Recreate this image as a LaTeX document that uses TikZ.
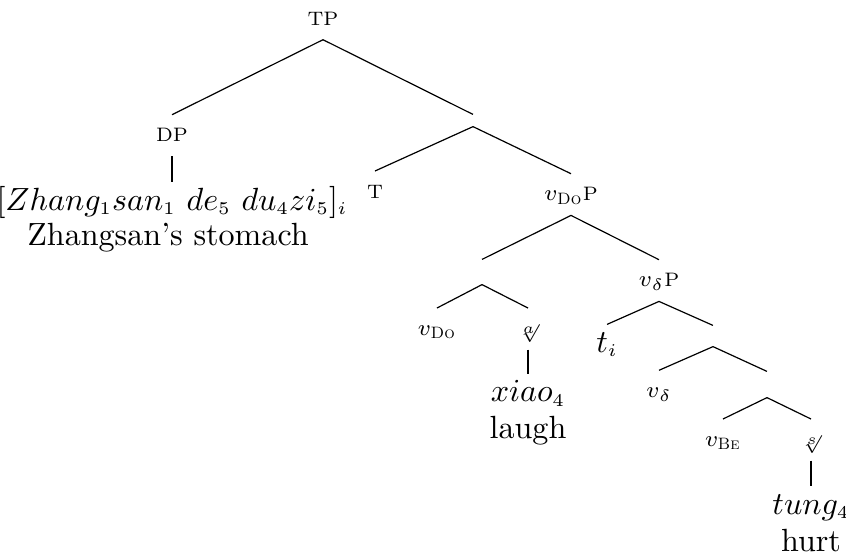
\RequirePackage{fix-cm}
\documentclass[tikz,border=0pt]{standalone}
\usepackage{amsmath}
\DeclareMathSizes{6}{6}{5}{5}
\DeclareMathSizes{6.5}{7.5}{5.5}{5}
\DeclareMathSizes{10.7}{10.7}{6}{5}
\begin{document}
\begin{tikzpicture}[x=0.3333pt, y=-0.3333pt,
  lbl/.style={font=\fontsize{6.5}{8}\selectfont, inner sep=0pt, text height=8.8pt, text depth=4.7pt, anchor=base},
  rootlbl/.style={lbl, font=\fontsize{6}{7}\selectfont},
  leaf/.style={font=\fontsize{10.7}{12}\selectfont, inner sep=0pt, text height=9pt, text depth=0pt, anchor=base},
  gloss/.style={font=\fontsize{10.7}{12}\selectfont, inner sep=0pt, anchor=base},
  empty/.style={inner sep=0pt, minimum width=0pt, minimum height=#1},
  edge/.style={line width=0.4pt}]
\useasboundingbox (0,0) rectangle (846,558);
% labels
\node[lbl] (TP) at (323,25) {TP};
\node[lbl] (DP) at (172,141.7) {DP};
\node[empty=3.67pt] (Tbar) at (473,120.5) {};
\node[lbl] (T) at (375,198) {T};
\node[lbl] (vDoP) at (571,200.7) {$v_{\text{\textsc{Do}}}$P};
\node[empty=8pt] (vbar) at (482,272) {};
\node[lbl] (vdP) at (659,286.7) {$v_{\delta}$P};
\node[lbl] (vDo) at (437,335) {$v_{\text{\textsc{Do}}}$};
\node[rootlbl] (ra) at (528,335) {$\sqrt[a]{}$};
\node[leaf] (xiao) at (528,401.7) {$xiao_4$};
\node[gloss] (laugh) at (528,438) {laugh};
\node[leaf] (ti) at (607,352) {$t_i$};
\node[empty=6.67pt] (dbar) at (713,336) {};
\node[lbl] (vd) at (659,397.3) {$v_{\delta}$};
\node[empty=8.33pt] (bebar) at (767,384.5) {};
\node[lbl] (vBe) at (723,446) {$v_{\text{\textsc{Be}}}$};
\node[rootlbl] (rs) at (811,446) {$\sqrt[s]{}$};
\node[leaf] (tung) at (811,514) {$tung_4$};
\node[gloss] (hurt) at (811,551) {hurt};
\node[leaf] (zh) at (172,210) {$[Zhang_1san_1\ de_5\ du_4zi_5]_i$};
\node[gloss] (zhg) at (168,245) {Zhangsan's stomach};
% edges
\draw[edge] (TP.south) -- (DP.north);
\draw[edge] (TP.south) -- (Tbar.north);
\draw[edge] (DP.south) -- (zh.north);
\draw[edge] (Tbar.south) -- (T.north);
\draw[edge] (Tbar.south) -- (vDoP.north);
\draw[edge] (vDoP.south) -- (vbar.north);
\draw[edge] (vDoP.south) -- (vdP.north);
\draw[edge] (vbar.south) -- (vDo.north);
\draw[edge] (vbar.south) -- (ra.north);
\draw[edge] (ra.south) -- (xiao.north);
\draw[edge] (vdP.south) -- (ti.north);
\draw[edge] (vdP.south) -- (dbar.north);
\draw[edge] (dbar.south) -- (vd.north);
\draw[edge] (dbar.south) -- (bebar.north);
\draw[edge] (bebar.south) -- (vBe.north);
\draw[edge] (bebar.south) -- (rs.north);
\draw[edge] (rs.south) -- (tung.north);
\end{tikzpicture}
\end{document}
